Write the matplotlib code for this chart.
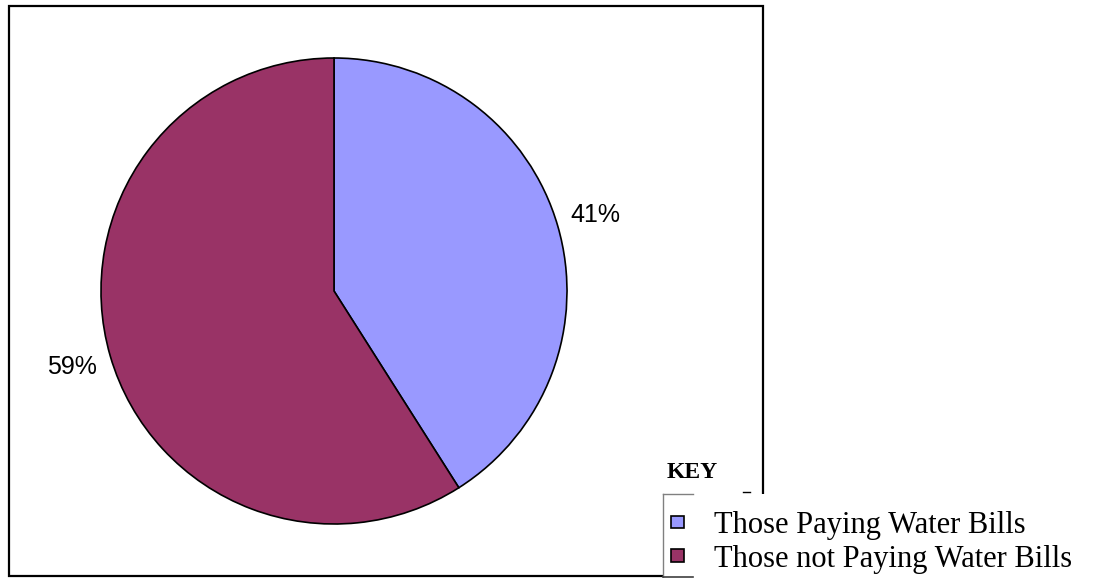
import matplotlib.pyplot as plt
from matplotlib.patches import Rectangle

labels = ["Those Paying Water Bills", "Those not Paying Water Bills"]
shares = [41, 59]
colors = ["#9999FF", "#993366"]

W, H = 1097, 578
fig = plt.figure(figsize=(W / 100, H / 100), dpi=100)
ax = fig.add_axes([0, 0, 1, 1])

# chart frame
ax.add_patch(Rectangle((9, H - 576), 754, 570, fill=False, edgecolor="black", linewidth=1.6))

wedges, _, pct = ax.pie(
    shares, colors=colors, startangle=90, counterclock=False,
    center=(334, H - 291), radius=233, autopct="%.0f%%", pctdistance=1.17,
    wedgeprops=dict(edgecolor="black", linewidth=1.2),
    textprops=dict(fontsize=18, family="Liberation Sans"),
)
ax.set_xlim(0, W)
ax.set_ylim(0, H)
ax.set_aspect("equal")
ax.axis("off")

# key box covering the frame corner
ax.add_patch(Rectangle((663, -5), 500, H - 494 + 5, facecolor="white", edgecolor="none", zorder=3))
ax.plot([663, 663], [-5, H - 494], color="#808080", lw=1, zorder=4)
ax.plot([663, 693], [H - 494, H - 494], color="#808080", lw=1, zorder=4)
ax.plot([663, 693], [H - 577, H - 577], color="#404040", lw=1.2, zorder=4)
ax.plot([743, 750], [H - 492, H - 492], color="black", lw=1, zorder=4)
ax.text(667, H - 473, "KEY", fontsize=17, fontweight="bold", family="Liberation Serif",
        va="center", ha="left", zorder=4)

fs = 22
leg = ax.legend(
    wedges, labels, loc="upper left", bbox_to_anchor=(671 / W, (H - 511) / H),
    frameon=False, prop=dict(family="Liberation Serif", size=fs),
    handlelength=0.42, handleheight=0.26, handletextpad=1.0, labelspacing=0.15,
    borderaxespad=0, borderpad=0,
)
leg.set_zorder(5)

fig.savefig("out.png", dpi=100)
